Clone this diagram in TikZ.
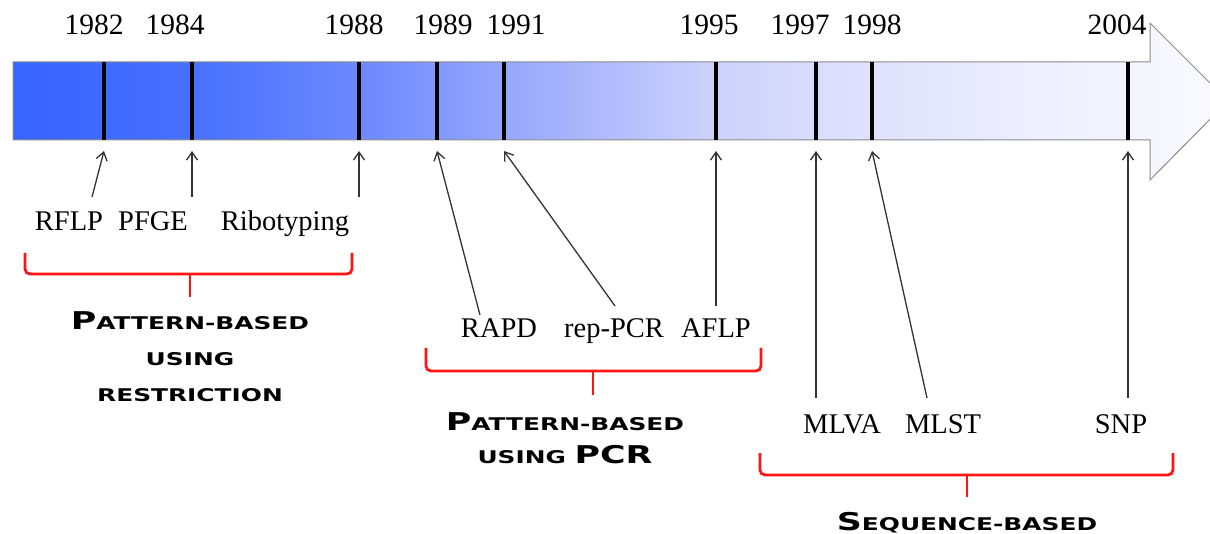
\documentclass[tikz,border=0pt]{standalone}
\usepackage{fontspec}
\setmainfont{Liberation Serif}
\newfontfamily\capfont[FakeStretch=1.42]{DejaVu Sans}
\usetikzlibrary{arrows.meta}
\definecolor{c0}{RGB}{55,100,255}
\definecolor{c1}{RGB}{72,112,255}
\definecolor{c2}{RGB}{108,136,252}
\definecolor{c3}{RGB}{150,166,252}
\definecolor{c4}{RGB}{205,210,252}
\definecolor{c5}{RGB}{224,226,253}
\definecolor{c6}{RGB}{245,245,255}
\definecolor{c7}{RGB}{250,250,255}
\definecolor{bracered}{RGB}{255,20,20}
\pgfdeclarehorizontalshading{timeline}{100bp}{color(0bp)=(c0); color(25bp)=(c0); color(32.4bp)=(c1); color(39.2bp)=(c2); color(45.2bp)=(c3); color(53.9bp)=(c4); color(60.3bp)=(c5); color(70.9bp)=(c6); color(75bp)=(c7); color(100bp)=(c7)}
\newcommand{\cgs}[2]{{\fontsize{24.5}{28}\selectfont #1}{\fontsize{17.5}{20}\selectfont #2}}
\tikzset{
  year/.style={anchor=base, inner sep=0pt, font=\fontsize{29.5}{32}\selectfont},
  meth/.style={anchor=base, inner sep=0pt, font=\fontsize{28.5}{32}\selectfont},
  cat/.style={anchor=base, inner sep=0pt, font=\capfont\bfseries},
  tickline/.style={line width=4pt, black},
  conn/.style={line width=1.3pt, draw=black!80, -{Straight Barb[length=8pt,width=11pt,line width=1.3pt]}},
  bracket/.style={line width=2.8pt, draw=bracered, rounded corners=5pt}
}
\begin{document}
\begin{tikzpicture}[x=1pt,y=-1pt]
\useasboundingbox (0,0) rectangle (1210,534);
% timeline arrow
\shade[shading=timeline, draw=black!45, line width=1pt]
  (13,62) -- (1150,62) -- (1150,23) -- (1228,101) -- (1150,180) -- (1150,140) -- (13,140) -- cycle;
% ticks
\foreach \x/\n in {104/t82,192/t84,359/t88,437/t89,504/t91,716/t95,816/t97,872/t98,1128/t04}{
  \draw[tickline] (\x,62) -- (\x,140);
  \coordinate (\n) at (\x,151);
}
% years
\node[year] (y82) at (94,35) {1982};
\node[year] (y84) at (175,35) {1984};
\node[year] (y88) at (354,35) {1988};
\node[year] (y89) at (443,35) {1989};
\node[year] (y91) at (516,35) {1991};
\node[year] (y95) at (709,35) {1995};
\node[year] (y97) at (800,35) {1997};
\node[year] (y98) at (872,35) {1998};
\node[year] (y04) at (1117,35) {2004};
% methods
\node[meth] (rflp) at (69,231) {RFLP};
\node[meth] (pfge) at (153,231) {PFGE};
\node[meth] (ribo) at (285,231) {Ribotyping};
\node[meth] (rapd) at (499,338) {RAPD};
\node[meth] (rep) at (614,338) {rep-PCR};
\node[meth] (aflp) at (716,338) {AFLP};
\node[meth] (mlva) at (842,433) {MLVA};
\node[meth] (mlst) at (943,433) {MLST};
\node[meth] (snp) at (1121,433) {SNP};
% arrow tails
\coordinate (s82) at (92,197);
\coordinate (s84) at (192,197);
\coordinate (s88) at (359,197);
\coordinate (s89) at (480,315);
\coordinate (s91) at (615,306);
\coordinate (s95) at (716,306);
\coordinate (s97) at (816,398);
\coordinate (s98) at (927,398);
\coordinate (s04) at (1128,398);
\foreach \a/\b in {s82/t82,s84/t84,s88/t88,s89/t89,s91/t91,s95/t95,s97/t97,s98/t98,s04/t04}{
  \draw[conn] (\a) -- (\b);
}
% brackets
\coordinate (b1l) at (25,253); \coordinate (b1r) at (352,253); \coordinate (b1m) at (190,297);
\draw[bracket] (b1l) -- (25,274) -- (352,274) -- (b1r);
\draw[bracket, rounded corners=0pt] (190,274) -- (b1m);
\coordinate (b2l) at (426,348); \coordinate (b2r) at (761,348); \coordinate (b2m) at (593,395);
\draw[bracket] (b2l) -- (426,371) -- (761,371) -- (b2r);
\draw[bracket, rounded corners=0pt] (593,371) -- (b2m);
\coordinate (b3l) at (760,453); \coordinate (b3r) at (1173,453); \coordinate (b3m) at (967,497);
\draw[bracket] (b3l) -- (760,475) -- (1173,475) -- (b3r);
\draw[bracket, rounded corners=0pt] (967,475) -- (b3m);
% category labels
\node[cat] (c1a) at (190,330) {\cgs{P}{ATTERN-BASED}};
\node[cat] (c1b) at (190,366) {\cgs{}{USING}};
\node[cat] (c1c) at (190,402) {\cgs{}{RESTRICTION}};
\node[cat] (c2a) at (565,430) {\cgs{P}{ATTERN-BASED}};
\node[cat] (c2b) at (565,463) {\cgs{}{USING }\cgs{PCR}{}};
\node[cat] (c3a) at (967,530) {\cgs{S}{EQUENCE-BASED}};
\end{tikzpicture}
\end{document}
